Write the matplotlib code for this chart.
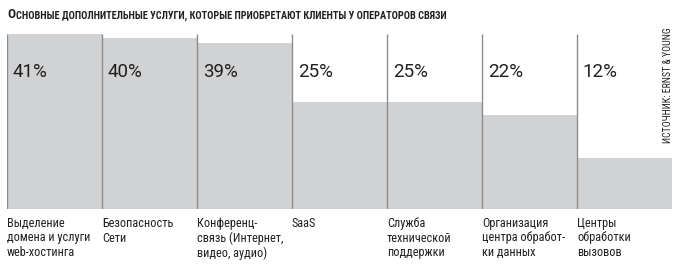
import numpy as np
import matplotlib
matplotlib.use('Agg')
import matplotlib.pyplot as plt

# Datos
categorias = [
    'Выделение\nдомена и услуги\nweb-хостинга',
    'Безопасность\nСети',
    'Конференц-\nсвязь (Интернет,\nвидео, аудио)',
    'SaaS',
    'Служба\nтехнической\nподдержки',
    'Организация\nцентра обработ-\nки данных',
    'Центры\nобработки\nвызовов',
]
valores = [41, 40, 39, 25, 25, 22, 12]
etiquetas = ['41%', '40%', '39%', '25%', '25%', '22%', '12%']

titulo_primera = 'О'
titulo_resto = 'СНОВНЫЕ ДОПОЛНИТЕЛЬНЫЕ УСЛУГИ, КОТОРЫЕ ПРИОБРЕТАЮТ КЛИЕНТЫ У ОПЕРАТОРОВ СВЯЗИ'
fuente = 'ИСТОЧНИК: ERNST & YOUNG'

narrow = ['Roboto Condensed', 'DejaVu Sans']
normal = ['Roboto', 'DejaVu Sans']
color_barra = '#d1d2d4'
color_linea = '#8c8c8c'
color_texto = '#231f20'

fig = plt.figure(figsize=(7, 2.7), dpi=100)
ax = fig.add_axes([7 / 700, 1 - 209 / 270, 665 / 700, 175 / 270])

x = np.arange(len(valores))
ax.bar(x, valores, width=1, align='edge', color=color_barra, linewidth=0)
# lineas divisorias verticales
ax.vlines(np.arange(len(valores)), 0, max(valores), color=color_linea, linewidth=1)

ax.set_xlim(0, len(valores))
ax.set_ylim(0, max(valores))
ax.axis('off')

# porcentajes
trans = matplotlib.transforms.blended_transform_factory(ax.transData, ax.transAxes)
for i, et in enumerate(etiquetas):
    ax.text(i + 0.06, 1 - 38 / 175, et, transform=trans, ha='left', va='center',
            fontsize=13.5, family=normal, color=color_texto)

# categorias debajo
for i, cat in enumerate(categorias):
    ax.text(i, -8 / 175, cat, transform=trans, ha='left', va='top',
            fontsize=8.8, family=narrow, color=color_texto, linespacing=1.15)

# titulo con versalitas
t1 = fig.text(7 / 700, 1 - 18 / 270, titulo_primera, fontsize=9.6, fontweight='bold',
              family=narrow, color=color_texto, ha='left', va='baseline')
fig.canvas.draw()
ax.annotate(titulo_resto, xy=(1, 0), xycoords=t1, xytext=(0.3, 0), textcoords='offset points',
            fontsize=7.35, fontweight='bold', family=narrow, color=color_texto,
            ha='left', va='bottom', annotation_clip=False)

# fuente
fig.text(673 / 700, 1 - 27 / 270, fuente, rotation=90, ha='right', va='top',
         fontsize=7.1, family=narrow, color=color_texto)

fig.savefig('out.png', dpi=100)
